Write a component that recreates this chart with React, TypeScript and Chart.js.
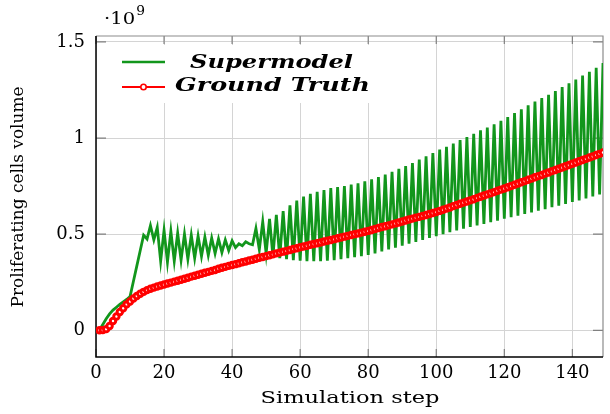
import React, { useEffect, useRef } from 'react';
import { Chart, registerables } from 'chart.js';

Chart.register(...registerables);

// Simulation steps (x values)
const STEPS: number[] = Array.from({ length: 150 }, (_, i) => i + 1);

// Proliferating cells volume, in units of 1e9
const GROUND_TRUTH: number[] = [
  0.000, 0.001, 0.006, 0.022, 0.048, 0.072, 0.095, 0.115, 0.135, 0.150,
  0.165, 0.178, 0.190, 0.200, 0.209, 0.216, 0.222, 0.228, 0.233, 0.238,
  0.243, 0.248, 0.253, 0.258, 0.263, 0.268, 0.273, 0.279, 0.284, 0.289,
  0.294, 0.299, 0.304, 0.309, 0.314, 0.320, 0.325, 0.330, 0.335, 0.340,
  0.344, 0.349, 0.354, 0.358, 0.363, 0.367, 0.372, 0.377, 0.381, 0.386,
  0.390, 0.395, 0.400, 0.404, 0.409, 0.413, 0.418, 0.423, 0.427, 0.432,
  0.436, 0.440, 0.445, 0.449, 0.453, 0.457, 0.462, 0.466, 0.470, 0.474,
  0.479, 0.483, 0.487, 0.491, 0.496, 0.500, 0.504, 0.508, 0.513, 0.517,
  0.522, 0.527, 0.532, 0.537, 0.541, 0.546, 0.551, 0.556, 0.561, 0.566,
  0.571, 0.576, 0.581, 0.586, 0.590, 0.595, 0.600, 0.605, 0.610, 0.615,
  0.621, 0.627, 0.633, 0.639, 0.646, 0.652, 0.658, 0.664, 0.670, 0.676,
  0.682, 0.689, 0.695, 0.701, 0.707, 0.713, 0.719, 0.726, 0.732, 0.738,
  0.744, 0.751, 0.757, 0.764, 0.770, 0.776, 0.783, 0.789, 0.796, 0.802,
  0.808, 0.815, 0.821, 0.828, 0.834, 0.840, 0.847, 0.853, 0.860, 0.866,
  0.873, 0.879, 0.886, 0.892, 0.899, 0.905, 0.912, 0.918, 0.925, 0.932,
];

const SUPERMODEL: number[] = [
  0.000, 0.030, 0.060, 0.085, 0.105, 0.120, 0.135, 0.148, 0.160, 0.175,
  0.255, 0.335, 0.415, 0.495, 0.475, 0.545, 0.470, 0.535, 0.360, 0.520,
  0.355, 0.515, 0.360, 0.505, 0.365, 0.500, 0.370, 0.495, 0.375, 0.490,
  0.385, 0.485, 0.390, 0.480, 0.400, 0.475, 0.405, 0.470, 0.415, 0.465,
  0.430, 0.450, 0.440, 0.460, 0.450, 0.445, 0.530, 0.420, 0.565, 0.400,
  0.580, 0.385, 0.600, 0.375, 0.620, 0.370, 0.650, 0.365, 0.675, 0.362,
  0.695, 0.360, 0.710, 0.360, 0.720, 0.360, 0.730, 0.362, 0.740, 0.365,
  0.745, 0.370, 0.750, 0.375, 0.758, 0.380, 0.765, 0.386, 0.775, 0.392,
  0.785, 0.400, 0.797, 0.410, 0.810, 0.420, 0.825, 0.430, 0.840, 0.440,
  0.855, 0.450, 0.870, 0.460, 0.888, 0.470, 0.905, 0.480, 0.922, 0.490,
  0.940, 0.500, 0.955, 0.510, 0.972, 0.520, 0.990, 0.528, 1.005, 0.537,
  1.022, 0.545, 1.040, 0.553, 1.055, 0.562, 1.072, 0.570, 1.090, 0.580,
  1.110, 0.588, 1.130, 0.596, 1.150, 0.605, 1.170, 0.613, 1.190, 0.622,
  1.208, 0.630, 1.225, 0.640, 1.245, 0.648, 1.265, 0.657, 1.285, 0.667,
  1.305, 0.676, 1.325, 0.686, 1.345, 0.696, 1.365, 0.706, 1.390, 0.715,
];

const X_TICKS: number[] = [0, 20, 40, 60, 80, 100, 120, 140];
const Y_TICKS: number[] = [0, 0.5, 1, 1.5];
const Y_TICK_LABELS: string[] = ['0', '0.5', '1', '1.5'];

const SERIES_LABELS = ['Supermodel', 'Ground Truth'];
const X_TITLE = 'Simulation step';
const Y_TITLE = 'Proliferating cells volume';
const EXPONENT_BASE = '·10';
const EXPONENT_POWER = '9';

const GREEN = 'rgb(18,150,28)';
const RED = '#ff0000';
const SERIF = '"DejaVu Serif", serif';

function fittedText(
  ctx: CanvasRenderingContext2D,
  text: string,
  x: number,
  y: number,
  font: string,
  targetWidth: number,
  rotate = 0,
) {
  ctx.save();
  ctx.font = font;
  const w = ctx.measureText(text).width;
  const sx = targetWidth / w;
  ctx.translate(x, y);
  if (rotate) ctx.rotate(rotate);
  ctx.scale(sx, 1);
  ctx.textAlign = 'center';
  ctx.textBaseline = 'alphabetic';
  ctx.fillStyle = '#000';
  ctx.fillText(text, 0, 0);
  ctx.restore();
}

const framePlugin = {
  id: 'frame',
  beforeDraw(chart: any) {
    const { ctx, width, height } = chart;
    ctx.save();
    ctx.fillStyle = '#fff';
    ctx.fillRect(0, 0, width, height);
    ctx.restore();
  },
  beforeDatasetsDraw(chart: any) {
    const { ctx, chartArea: a, scales } = chart;
    const xs = scales.x;
    const ys = scales.y;
    ctx.save();
    ctx.strokeStyle = '#808080';
    ctx.lineWidth = 1.2;
    ctx.beginPath();
    X_TICKS.forEach((v) => {
      const px = xs.getPixelForValue(v);
      ctx.moveTo(px, a.bottom);
      ctx.lineTo(px, a.bottom - 8);
      ctx.moveTo(px, a.top);
      ctx.lineTo(px, a.top + 8);
    });
    Y_TICKS.forEach((v) => {
      const py = ys.getPixelForValue(v);
      ctx.moveTo(a.left, py);
      ctx.lineTo(a.left + 10, py);
      ctx.moveTo(a.right, py);
      ctx.lineTo(a.right - 10, py);
    });
    ctx.stroke();
    ctx.strokeStyle = '#8c8c8c';
    ctx.lineWidth = 1.2;
    ctx.beginPath();
    ctx.moveTo(a.left, a.top);
    ctx.lineTo(a.right, a.top);
    ctx.lineTo(a.right, a.bottom);
    ctx.stroke();
    ctx.strokeStyle = '#000';
    ctx.lineWidth = 1.5;
    ctx.beginPath();
    ctx.moveTo(a.left, a.top);
    ctx.lineTo(a.left, a.bottom);
    ctx.lineTo(a.right, a.bottom);
    ctx.stroke();
    ctx.restore();
  },
  afterDatasetsDraw(chart: any) {
    const { ctx, chartArea: a } = chart;
    ctx.save();
    ctx.fillStyle = '#fff';
    ctx.fillRect(110, 45, 280, 58);
    ctx.strokeStyle = GREEN;
    ctx.lineWidth = 2.6;
    ctx.beginPath();
    ctx.moveTo(122, 62);
    ctx.lineTo(165, 62);
    ctx.stroke();
    ctx.strokeStyle = RED;
    ctx.lineWidth = 1.8;
    ctx.beginPath();
    ctx.moveTo(122, 87);
    ctx.lineTo(165, 87);
    ctx.stroke();
    ctx.beginPath();
    ctx.arc(143.5, 87, 2.7, 0, Math.PI * 2);
    ctx.fillStyle = '#fff';
    ctx.fill();
    ctx.lineWidth = 1.6;
    ctx.stroke();
    ctx.restore();

    const legendFont = `italic bold 19px ${SERIF}`;
    fittedText(ctx, SERIES_LABELS[0], 271.5, 68, legendFont, 163);
    fittedText(ctx, SERIES_LABELS[1], 272.5, 91, legendFont, 195);

    ctx.save();
    ctx.fillStyle = '#000';
    ctx.font = `17px ${SERIF}`;
    ctx.textBaseline = 'alphabetic';
    ctx.textAlign = 'left';
    ctx.translate(104, 24);
    ctx.scale(1.15, 1);
    ctx.fillText(EXPONENT_BASE, 0, 0);
    const bw = ctx.measureText(EXPONENT_BASE).width;
    ctx.font = `12px ${SERIF}`;
    ctx.fillText(EXPONENT_POWER, bw + 1, -9);
    ctx.restore();

    fittedText(ctx, X_TITLE, (a.left + a.right) / 2 + 0.5, 403, `17px ${SERIF}`, 179);
    fittedText(ctx, Y_TITLE, 23, 197, `17px ${SERIF}`, 221, -Math.PI / 2);
  },
};

export default function App() {
  const ref = useRef<HTMLCanvasElement | null>(null);

  useEffect(() => {
    document.body.style.margin = '0';
    const canvas = ref.current;
    if (!canvas) return;
    const chart = new Chart(canvas, {
      type: 'line',
      data: {
        datasets: [
          {
            label: SERIES_LABELS[1],
            data: STEPS.map((s, i) => ({ x: s, y: GROUND_TRUTH[i] })),
            borderColor: RED,
            backgroundColor: '#ffffff',
            borderWidth: 2,
            pointRadius: 2.7,
            pointBorderWidth: 3,
            pointBackgroundColor: '#ffffff',
            pointBorderColor: RED,
            tension: 0,
            order: 0,
          },
          {
            label: SERIES_LABELS[0],
            data: STEPS.map((s, i) => ({ x: s, y: SUPERMODEL[i] })),
            borderColor: GREEN,
            borderWidth: 2.8,
            pointRadius: 0,
            tension: 0,
            order: 1,
          },
        ],
      },
      options: {
        animation: false,
        responsive: false,
        maintainAspectRatio: false,
        layout: { padding: { top: 36, left: 0, right: 0, bottom: 0 } },
        plugins: {
          legend: { display: false },
          tooltip: { enabled: false },
        },
        scales: {
          x: {
            type: 'linear',
            min: 0,
            max: 149,
            afterBuildTicks: (s: any) => {
              s.ticks = X_TICKS.map((v) => ({ value: v }));
            },
            afterFit: (s: any) => {
              s.height = 57;
            },
            grid: { color: '#d4d4d4', lineWidth: 1, drawTicks: false },
            border: { display: false },
            ticks: {
              padding: 6,
              color: '#000',
              maxRotation: 0,
              autoSkip: false,
              font: { family: SERIF, size: 18 },
              callback: (v: any) => String(v),
            },
          },
          y: {
            type: 'linear',
            min: -0.139,
            max: 1.531,
            afterBuildTicks: (s: any) => {
              s.ticks = Y_TICKS.map((v) => ({ value: v }));
            },
            afterFit: (s: any) => {
              s.width = 96;
            },
            grid: { color: '#d4d4d4', lineWidth: 1, drawTicks: false },
            border: { display: false },
            ticks: {
              padding: 11,
              color: '#000',
              font: { family: SERIF, size: 18 },
              callback: (v: any) => {
                const i = Y_TICKS.indexOf(Number(v));
                return i >= 0 ? Y_TICK_LABELS[i] : '';
              },
            },
          },
        },
      },
      plugins: [framePlugin],
    });
    return () => chart.destroy();
  }, []);

  return (
    <canvas
      ref={ref}
      width={610}
      height={414}
      style={{ display: 'block', width: 610, height: 414 }}
    />
  );
}
